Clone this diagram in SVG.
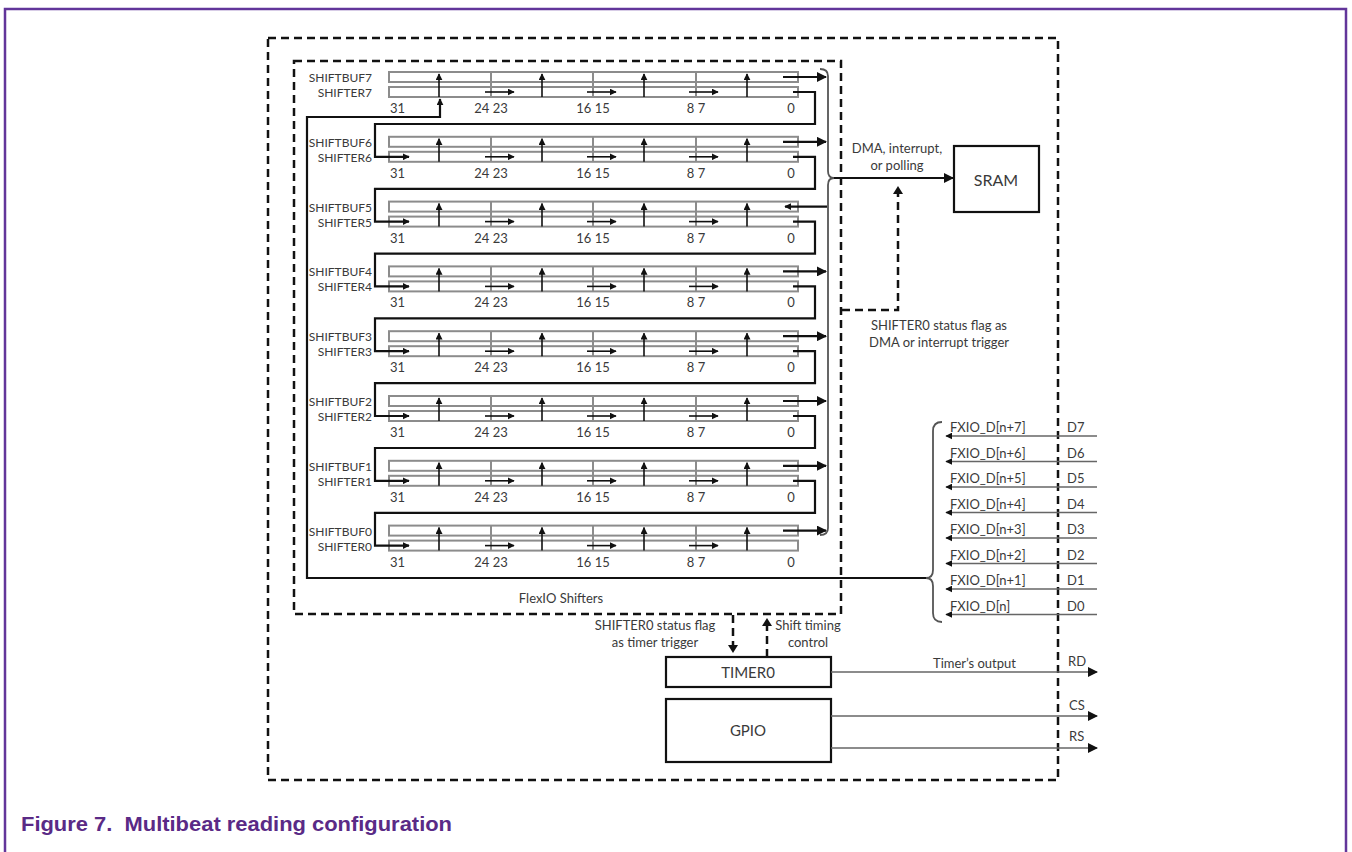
<svg xmlns="http://www.w3.org/2000/svg" width="1352" height="852" viewBox="0 0 1352 852">
<style>
.reg{fill:#fff;stroke:#8c8c8c;stroke-width:2}
.div{stroke:#8c8c8c;stroke-width:2}
.ar{stroke:#111;stroke-width:1.6;fill:none}
.ln{stroke:#111;stroke-width:2.2;fill:none}
.br{stroke:#555;stroke-width:1.8;fill:none}
.dash{stroke:#111;stroke-width:2.5;fill:none;stroke-dasharray:8 5}
.gl{stroke:#666;stroke-width:1.6;fill:none}
.t{font-family:Lato,'Open Sans',sans-serif;fill:#3a3a3a}
.s12{font-size:12px}
.s13{font-size:13px}
.s16{font-size:16px}
.box{fill:#fff;stroke:#111;stroke-width:2.2}
</style>
<defs>
<marker id="ah" viewBox="0 0 10 10" refX="9" refY="5" markerWidth="7" markerHeight="7" markerUnits="userSpaceOnUse" orient="auto"><path d="M0,0 L10,5 L0,10 z" fill="#111"/></marker>
<marker id="ahb" viewBox="0 0 10 10" refX="9" refY="5" markerWidth="10" markerHeight="10" markerUnits="userSpaceOnUse" orient="auto"><path d="M0,0 L10,5 L0,10 z" fill="#111"/></marker>
<g id="rowbase">
<rect class="reg" x="389" y="72" width="409" height="10"/>
<rect class="reg" x="389" y="87" width="409" height="10"/>
<line class="div" x1="491" y1="72" x2="491" y2="97"/>
<line class="div" x1="593" y1="72" x2="593" y2="97"/>
<line class="div" x1="696" y1="72" x2="696" y2="97"/>
<path class="ar" d="M439 97 V74" marker-end="url(#ah)"/>
<path class="ar" d="M542 97 V74" marker-end="url(#ah)"/>
<path class="ar" d="M644 97 V74" marker-end="url(#ah)"/>
<path class="ar" d="M747 97 V74" marker-end="url(#ah)"/>
<path class="ar" d="M485 92 H514" marker-end="url(#ah)"/>
<path class="ar" d="M587 92 H616" marker-end="url(#ah)"/>
<path class="ar" d="M689 92 H718" marker-end="url(#ah)"/>
<text class="t s13" x="390" y="113">31</text>
<text class="t s13" x="491" y="113" text-anchor="middle">24 23</text>
<text class="t s13" x="593" y="113" text-anchor="middle">16 15</text>
<text class="t s13" x="696" y="113" text-anchor="middle">8 7</text>
<text class="t s13" x="791" y="113" text-anchor="middle">0</text>
</g>
</defs>

<!-- page frame -->
<path d="M5 852 V9 H1346 V852" fill="none" stroke="#62359a" stroke-width="2.5"/>

<!-- outer dashed boundary -->
<rect class="dash" x="268" y="38" width="790" height="742"/>
<!-- FlexIO shifters dashed -->
<g id="flexio-shifters">
<rect class="dash" x="294" y="61" width="547" height="553"/>
<text class="t s13" x="561" y="603" text-anchor="middle">FlexIO Shifters</text>
</g>

<g id="shifter7"><use href="#rowbase"/><text class="t s12" x="372" y="82" text-anchor="end">SHIFTBUF7</text><text class="t s12" x="372" y="97" text-anchor="end">SHIFTER7</text></g>
<g id="shifter6" transform="translate(0,64.8)"><use href="#rowbase"/><text class="t s12" x="372" y="82" text-anchor="end">SHIFTBUF6</text><text class="t s12" x="372" y="97" text-anchor="end">SHIFTER6</text></g>
<g id="shifter5" transform="translate(0,129.6)"><use href="#rowbase"/><text class="t s12" x="372" y="82" text-anchor="end">SHIFTBUF5</text><text class="t s12" x="372" y="97" text-anchor="end">SHIFTER5</text></g>
<g id="shifter4" transform="translate(0,194.4)"><use href="#rowbase"/><text class="t s12" x="372" y="82" text-anchor="end">SHIFTBUF4</text><text class="t s12" x="372" y="97" text-anchor="end">SHIFTER4</text></g>
<g id="shifter3" transform="translate(0,259.2)"><use href="#rowbase"/><text class="t s12" x="372" y="82" text-anchor="end">SHIFTBUF3</text><text class="t s12" x="372" y="97" text-anchor="end">SHIFTER3</text></g>
<g id="shifter2" transform="translate(0,324)"><use href="#rowbase"/><text class="t s12" x="372" y="82" text-anchor="end">SHIFTBUF2</text><text class="t s12" x="372" y="97" text-anchor="end">SHIFTER2</text></g>
<g id="shifter1" transform="translate(0,388.8)"><use href="#rowbase"/><text class="t s12" x="372" y="82" text-anchor="end">SHIFTBUF1</text><text class="t s12" x="372" y="97" text-anchor="end">SHIFTER1</text></g>
<g id="shifter0" transform="translate(0,453.6)"><use href="#rowbase"/><text class="t s12" x="372" y="82" text-anchor="end">SHIFTBUF0</text><text class="t s12" x="372" y="97" text-anchor="end">SHIFTER0</text></g>

<g id="sram">
<rect class="box" x="954" y="146" width="85" height="66"/>
<text class="t s16" x="996" y="186" text-anchor="middle">SRAM</text>
</g>
<g id="timer0">
<rect class="box" x="666" y="657" width="165" height="30"/>
<text class="t" font-size="15" x="748" y="678" text-anchor="middle">TIMER0</text>
</g>
<g id="gpio">
<rect class="box" x="666" y="699" width="165" height="63"/>
<text class="t" font-size="15" x="748" y="736" text-anchor="middle">GPIO</text>
</g>

<g id="labels">
<text class="t s13" x="897" y="153" text-anchor="middle">DMA, interrupt,</text>
<text class="t s13" x="897" y="170" text-anchor="middle">or polling</text>
<text class="t s13" x="939" y="330" text-anchor="middle">SHIFTER0 status flag as</text>
<text class="t s13" x="939" y="347" text-anchor="middle">DMA or interrupt trigger</text>
<text class="t s13" x="655" y="630" text-anchor="middle">SHIFTER0 status flag</text>
<text class="t s13" x="655" y="647" text-anchor="middle">as timer trigger</text>
<text class="t s13" x="808" y="630" text-anchor="middle">Shift timing</text>
<text class="t s13" x="808" y="647" text-anchor="middle">control</text>
<text class="t s13" x="933" y="668">Timer’s output</text>
<text class="t s13" x="1068" y="666">RD</text>
<text class="t s13" x="1069" y="710">CS</text>
<text class="t s13" x="1069" y="741">RS</text>
<text class="t s13" x="950" y="432">FXIO_D[n+7]</text>
<text class="t s13" x="950" y="457.5">FXIO_D[n+6]</text>
<text class="t s13" x="950" y="483">FXIO_D[n+5]</text>
<text class="t s13" x="950" y="508.5">FXIO_D[n+4]</text>
<text class="t s13" x="950" y="534">FXIO_D[n+3]</text>
<text class="t s13" x="950" y="559.5">FXIO_D[n+2]</text>
<text class="t s13" x="950" y="585">FXIO_D[n+1]</text>
<text class="t s13" x="950" y="610.5">FXIO_D[n]</text>
<text class="t s13" x="1067" y="432">D7</text>
<text class="t s13" x="1067" y="457.5">D6</text>
<text class="t s13" x="1067" y="483">D5</text>
<text class="t s13" x="1067" y="508.5">D4</text>
<text class="t s13" x="1067" y="534">D3</text>
<text class="t s13" x="1067" y="559.5">D2</text>
<text class="t s13" x="1067" y="585">D1</text>
<text class="t s13" x="1067" y="610.5">D0</text>
</g>

<g id="connectors">
<path class="ln" d="M783 77 H826" marker-end="url(#ahb)"/>
<path class="ln" d="M783 141.8 H826" marker-end="url(#ahb)"/>
<path class="ln" d="M827 206.6 H785" marker-end="url(#ah)"/>
<path class="ln" d="M783 271.4 H826" marker-end="url(#ahb)"/>
<path class="ln" d="M783 336.2 H826" marker-end="url(#ahb)"/>
<path class="ln" d="M783 401 H826" marker-end="url(#ahb)"/>
<path class="ln" d="M783 465.8 H826" marker-end="url(#ahb)"/>
<path class="ln" d="M783 530.6 H826" marker-end="url(#ahb)"/>
<path class="ln" d="M793 92 H815 V124 H375 V156.8 H409" marker-end="url(#ah)"/>
<path class="ln" d="M793 156.8 H815 V188.8 H375 V221.6 H409" marker-end="url(#ah)"/>
<path class="ln" d="M793 221.6 H815 V253.6 H375 V286.4 H409" marker-end="url(#ah)"/>
<path class="ln" d="M793 286.4 H815 V318.4 H375 V351.2 H409" marker-end="url(#ah)"/>
<path class="ln" d="M793 351.2 H815 V383.2 H375 V416 H409" marker-end="url(#ah)"/>
<path class="ln" d="M793 416 H815 V448 H375 V480.8 H409" marker-end="url(#ah)"/>
<path class="ln" d="M793 480.8 H815 V512.8 H375 V545.6 H409" marker-end="url(#ah)"/>
<path class="ln" d="M926 578 H307 V117 H440 V99" marker-end="url(#ah)"/>
<path class="br" d="M820 69 Q828 69 828 76 V171 Q828 178 834 178 Q828 178 828 185 V528 Q828 535 820 535"/>
<path class="ln" d="M834 178 H953" marker-end="url(#ahb)"/>
<path class="dash" d="M842 310 H898 V192"/>
<path d="M893 194 L898 186 L903 194 z" fill="#111"/>
<path class="br" d="M942 422 Q933 422 933 431 V570 Q933 578 926 578 Q933 578 933 586 V613 Q933 622 942 622"/>
<path class="gl" d="M1097 436 H946" marker-end="url(#ah)"/>
<path class="gl" d="M1097 461.5 H946" stroke-width="2.6" marker-end="url(#ah)"/>
<path class="gl" d="M1097 487 H946" marker-end="url(#ah)"/>
<path class="gl" d="M1097 512.5 H946" marker-end="url(#ah)"/>
<path class="gl" d="M1097 538 H946" marker-end="url(#ah)"/>
<path class="gl" d="M1097 563.5 H946" marker-end="url(#ah)"/>
<path class="gl" d="M1097 589 H946" marker-end="url(#ah)"/>
<path class="gl" d="M1097 614.5 H946" marker-end="url(#ah)"/>
<path class="dash" d="M733 615 V646"/>
<path d="M728 645 L733 653 L738 645 z" fill="#111"/>
<path class="dash" d="M767 657 V625"/>
<path d="M762 626 L767 618 L772 626 z" fill="#111"/>
<path class="gl" d="M831 672 H1097" marker-end="url(#ahb)"/>
<path class="gl" d="M831 716 H1097" marker-end="url(#ahb)"/>
<path class="gl" d="M831 748 H1097" marker-end="url(#ahb)"/>
</g>

<text x="21" y="831" font-family="'Liberation Sans',Arial,sans-serif" font-size="20" font-weight="bold" fill="#5a2a86" textLength="431" lengthAdjust="spacingAndGlyphs" style="white-space:pre">Figure 7.  Multibeat reading configuration</text>
</svg>
